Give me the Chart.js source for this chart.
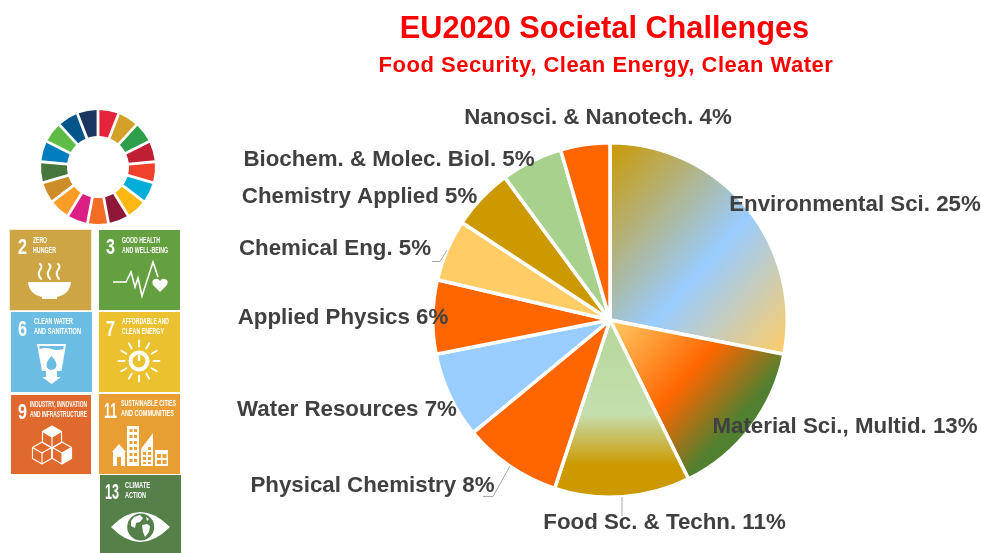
<!DOCTYPE html>
<html>
<head>
<meta charset="utf-8">
<title>EU2020 Societal Challenges</title>
<script src="https://cdn.jsdelivr.net/npm/chart.js@4"></script>
<style>
html,body{margin:0;padding:0;width:981px;height:553px;overflow:hidden;background:#fff}
#wrap{position:relative;width:981px;height:553px;overflow:hidden}
#pie{position:absolute;left:0;top:0}
#icons{position:absolute;left:0;top:0;filter:blur(.35px)}
#icons text{font-family:"Liberation Sans Narrow","Liberation Sans",Arial,sans-serif;fill:#fff;font-weight:bold}
</style>
</head>
<body>
<div id="wrap">
<canvas id="pie" width="981" height="553"></canvas>
<svg id="icons" width="190" height="553" viewBox="0 0 190 553" xmlns="http://www.w3.org/2000/svg"></svg>
</div>
<script>
const categories = ["Environmental Sci.","Material Sci., Multid.","Food Sc. & Techn.","Physical Chemistry","Water Resources","Applied Physics","Chemical Eng.","Chemistry Applied","Biochem. & Molec. Biol.","Nanosci. & Nanotech."];
const shareValues = [25,13,11,8,7,6,5,5,5,4];
const titleText = "EU2020 Societal Challenges";
const subtitleText = "Food Security, Clean Energy, Clean Water";
const solidColors = [null,null,null,"#FF6600","#99CCFF","#FF6600","#FFCC66","#CC9900","#A9D18E","#FF6600"];
const labelCenters = [[855,205],[845,427],[664.5,523],[372.5,486],[347,410],[343,318],[335,249],[359.5,197],[389,160],[598,118]];
const leaderPaths = [[[432,261.5],[440,261.5],[447,250]],[[483,496.5],[493,496.5],[510,466]],[[622,497],[622,516]]];
const wheelColors = ["#E5243B","#D3A029","#2E9E4A","#C01F33","#EF402B","#00AED9","#FDB713","#8F1838","#F36D25","#DB1F84","#F99D26","#CF8D2A","#48773E","#007DBC","#5DBB46","#02558B","#18365F"];

function slopeGradient(ctx, x0, y0, x1, y1, stops) {
  const g = ctx.createLinearGradient(x0, y0, x1, y1);
  stops.forEach(s => g.addColorStop(s[0], s[1]));
  return g;
}
function sliceFill(c) {
  const i = c.dataIndex;
  if (solidColors[i]) return solidColors[i];
  const area = c.chart.chartArea;
  if (!area) return "#CC9900";
  const x = (area.left + area.right) / 2, y = (area.top + area.bottom) / 2;
  const r = Math.min(area.right - area.left, area.bottom - area.top) / 2 - 2;
  const ctx = c.chart.ctx;
  if (i === 0) return slopeGradient(ctx, x, y - r, x + 1.15 * r, y + 0.01 * r, [[0,"#CC9900"],[0.56,"#99CCFF"],[1,"#FFCC66"]]);
  if (i === 1) return slopeGradient(ctx, x, y, x + 0.72 * r, y + 0.64 * r, [[0,"#FFCC66"],[0.56,"#FF6600"],[0.95,"#508030"],[1,"#508030"]]);
  return slopeGradient(ctx, x, y, x, y + r, [[0,"#B4D698"],[0.53,"#C5DFAE"],[0.82,"#CC9900"],[1,"#CC9900"]]);
}
const annotate = {
  id: "annotate",
  afterDraw(chart) {
    const ctx = chart.ctx;
    ctx.save();
    ctx.strokeStyle = "#A6A6A6";
    ctx.lineWidth = 1;
    leaderPaths.forEach(p => {
      ctx.beginPath();
      p.forEach((q, k) => k ? ctx.lineTo(q[0], q[1]) : ctx.moveTo(q[0], q[1]));
      ctx.stroke();
    });
    ctx.textAlign = "center";
    ctx.textBaseline = "middle";
    ctx.fillStyle = "#404040";
    ctx.font = 'bold 22.3px "Liberation Sans", Arial, sans-serif';
    categories.forEach((name, i) => {
      ctx.fillText(name + " " + shareValues[i] + "%", labelCenters[i][0], labelCenters[i][1]);
    });
    ctx.fillStyle = "#FF0000";
    ctx.font = 'bold 30.7px "Liberation Sans", Arial, sans-serif';
    ctx.fillText(titleText, 604.5, 30);
    ctx.font = 'bold 22px "Liberation Sans", Arial, sans-serif';
    ctx.letterSpacing = "0.5px";
    ctx.fillText(subtitleText, 606, 66);
    ctx.restore();
  }
};
new Chart(document.getElementById("pie"), {
  type: "pie",
  data: {
    labels: categories,
    datasets: [{ data: shareValues, backgroundColor: sliceFill, borderColor: "#fff", borderWidth: 3.5 }]
  },
  options: {
    responsive: false,
    animation: false,
    layout: { padding: { left: 431, right: 192, top: 141, bottom: 54 } },
    plugins: { legend: { display: false }, tooltip: { enabled: false }, title: { display: false } }
  },
  plugins: [annotate]
});

/* decorative SDG wheel and tiles */
const svg = document.getElementById("icons");
let out = "";
const pt = (cx, cy, r, deg) => {
  const a = (deg - 90) * Math.PI / 180;
  return (cx + r * Math.cos(a)).toFixed(2) + " " + (cy + r * Math.sin(a)).toFixed(2);
};
const step = 360 / wheelColors.length;
wheelColors.forEach((col, i) => {
  const a0 = i * step, a1 = a0 + step;
  const ro = 57, ri = 31;
  const go = 1.4, gi = 2.6;
  out += `<path fill="${col}" d="M${pt(98,167,ro,a0+go)} A${ro} ${ro} 0 0 1 ${pt(98,167,ro,a1-go)} L${pt(98,167,ri,a1-gi)} A${ri} ${ri} 0 0 0 ${pt(98,167,ri,a0+gi)}Z"/>`;
});
function txt(s, x, y, size, w) {
  return `<text x="${x}" y="${y}" font-size="${size}" textLength="${w}" lengthAdjust="spacingAndGlyphs">${s}</text>`;
}
function tile(x, y, w, h, bg, edge, body) {
  const rim = edge ? `<rect x="${x-1}" y="${y-1}" width="${w+2}" height="${h+2}" fill="${edge}"/>` : "";
  return `${rim}<g transform="translate(${x} ${y})"><rect width="${w}" height="${h}" fill="${bg}"/>${body}</g>`;
}
const W = `fill="#fff"`;
out += tile(10, 230, 81, 80, "#CDA545", "#F6E9D6",
  txt("2", 8, 24, 22, 9) + txt("ZERO", 23, 13, 8.5, 14) + txt("HUNGER", 23, 23, 8.5, 23) +
  `<path ${W} d="M18 52H61Q60 64 47 67V69H32V67Q19 64 18 52Z"/>` +
  `<path fill="none" stroke="#fff" stroke-width="2" stroke-linecap="round" d="M31 49Q27 44 30 40T30 34M40 49Q36 44 39 40T39 34M49 49Q45 44 48 40T48 34"/>`);
out += tile(99, 230, 81, 80, "#64A03F", null,
  txt("3", 7, 24, 22, 9) + txt("GOOD HEALTH", 23, 13, 8.5, 38) + txt("AND WELL-BEING", 23, 23, 8.5, 46) +
  `<polyline fill="none" stroke="#fff" stroke-width="1.6" points="14,52 27,52 32,42 36,57 39,48 43,66 54,32 59,47"/>` +
  `<path ${W} d="M61 62L54 55Q52 50 56 49Q59 48 61 51Q63 48 66 49Q70 50 68 55Z"/>`);
out += tile(11, 312, 81, 80, "#6CBDE4", null,
  txt("6", 7, 24, 22, 9) + txt("CLEAN WATER", 23, 12, 8.5, 39) + txt("AND SANITATION", 23, 22, 8.5, 47) +
  `<path ${W} d="M26 32H55L50.5 59H46V65H50L40.6 72L31 65H35V59H31Z"/>` +
  `<path fill="#6CBDE4" d="M28.3 34H52.7L52.2 37Q46 39 40.5 37Q35 35 28.8 37Z"/>` +
  `<path fill="#6CBDE4" d="M40.5 44Q46 50 45.5 53A5 5 0 0 1 35.5 53Q35 50 40.5 44Z"/>`);
let rays = "";
for (let k = 0; k < 12; k++) {
  const a = k * 30;
  const p1 = pt(40, 49, 14.5, a), p2 = pt(40, 49, 20.5, a);
  rays += `<path d="M${p1}L${p2}"/>`;
}
out += tile(99, 312, 81, 80, "#ECC12F", null,
  txt("7", 7, 24, 22, 9) + txt("AFFORDABLE AND", 23, 12, 8.5, 47) + txt("CLEAN ENERGY", 23, 22, 8.5, 42) +
  `<g stroke="#fff" stroke-width="1.8" stroke-linecap="round">${rays}</g>` +
  `<circle cx="40" cy="49" r="8.5" fill="none" stroke="#fff" stroke-width="4"/><path stroke="#fff" stroke-width="2.4" d="M40 43V49"/>`);
function cube(cx, cy, r, filled) {
  const d = r * 0.866, h = r / 2;
  return `<path fill="${filled ? "#fff" : "none"}" stroke="#fff" stroke-width="1.1" stroke-linejoin="round" d="M${cx} ${cy-r}L${cx+d} ${cy-h}L${cx} ${cy}L${cx-d} ${cy-h}Z"/>` +
    `<path fill="none" stroke="#fff" stroke-width="1.1" stroke-linejoin="round" d="M${cx-d} ${cy-h}V${cy+h}L${cx} ${cy+r}V${cy}M${cx+d} ${cy-h}V${cy+h}L${cx} ${cy+r}"/>`;
}
out += tile(11, 395, 80, 79, "#E06A2D", null,
  txt("9", 7, 24, 22, 9) + txt("INDUSTRY, INNOVATION", 19, 12, 8.5, 57) + txt("AND INFRASTRUCTURE", 19, 22, 8.5, 57) +
  cube(41, 42, 11, true) + cube(31, 58, 11, false) + cube(51, 58, 11, false) +
  `<path ${W} d="M51 58L60.5 52.5V63.5L51 69Z"/>`);
out += tile(99, 394, 81, 80, "#E89E33", null,
  txt("11", 5, 24, 22, 13) + txt("SUSTAINABLE CITIES", 22, 12, 8.5, 55) + txt("AND COMMUNITIES", 22, 22, 8.5, 53) +
  `<path ${W} d="M28 32H40V72H28Z"/>` +
  `<path fill="#E89E33" d="M30.5 35h3v3h-3zM35 35h3v3h-3zM30.5 41h3v3h-3zM35 41h3v3h-3zM30.5 47h3v3h-3zM35 47h3v3h-3zM30.5 53h3v3h-3zM35 53h3v3h-3zM30.5 59h3v3h-3zM35 59h3v3h-3zM30.5 65h3v3h-3zM35 65h3v3h-3z"/>` +
  `<path ${W} d="M13 58L20 50L27 58H26V72H14V58Z"/><path fill="#E89E33" d="M18 63h4v9h-4z"/>` +
  `<path ${W} d="M42 72V55L54 39V72Z"/>` +
  `<path fill="#E89E33" d="M44 58h3v3h-3zM49 53h3v3h-3zM49 58h3v3h-3zM44 63h3v3h-3zM49 63h3v3h-3zM44 68h3v2h-3zM49 68h3v2h-3z"/>` +
  `<path ${W} d="M56 56H69V72H56Z"/><path fill="#E89E33" d="M58 60h4v4h-4zM63.5 60h4v4h-4zM58 66h4v4h-4zM63.5 66h4v4h-4z"/>`);
out += tile(100, 475, 81, 80, "#55804A", null,
  txt("13", 5, 24, 22, 14) + txt("CLIMATE", 25, 13, 8.5, 25) + txt("ACTION", 25, 23, 8.5, 21) +
  `<path ${W} d="M11 52Q40 22 70 52Q40 82 11 52Z"/>` +
  `<circle cx="40.7" cy="52" r="13.5" fill="#55804A"/>` +
  `<path ${W} d="M34 42l6 -2l3 3l-3 4l-4 1l-1 5l-4 -2l0 -5zM42 50l5 -1l3 2l-1 6l-4 5l-2 -5zM46 42l3 2l-2 2z"/>`);
svg.innerHTML = out;
</script>
</body>
</html>
